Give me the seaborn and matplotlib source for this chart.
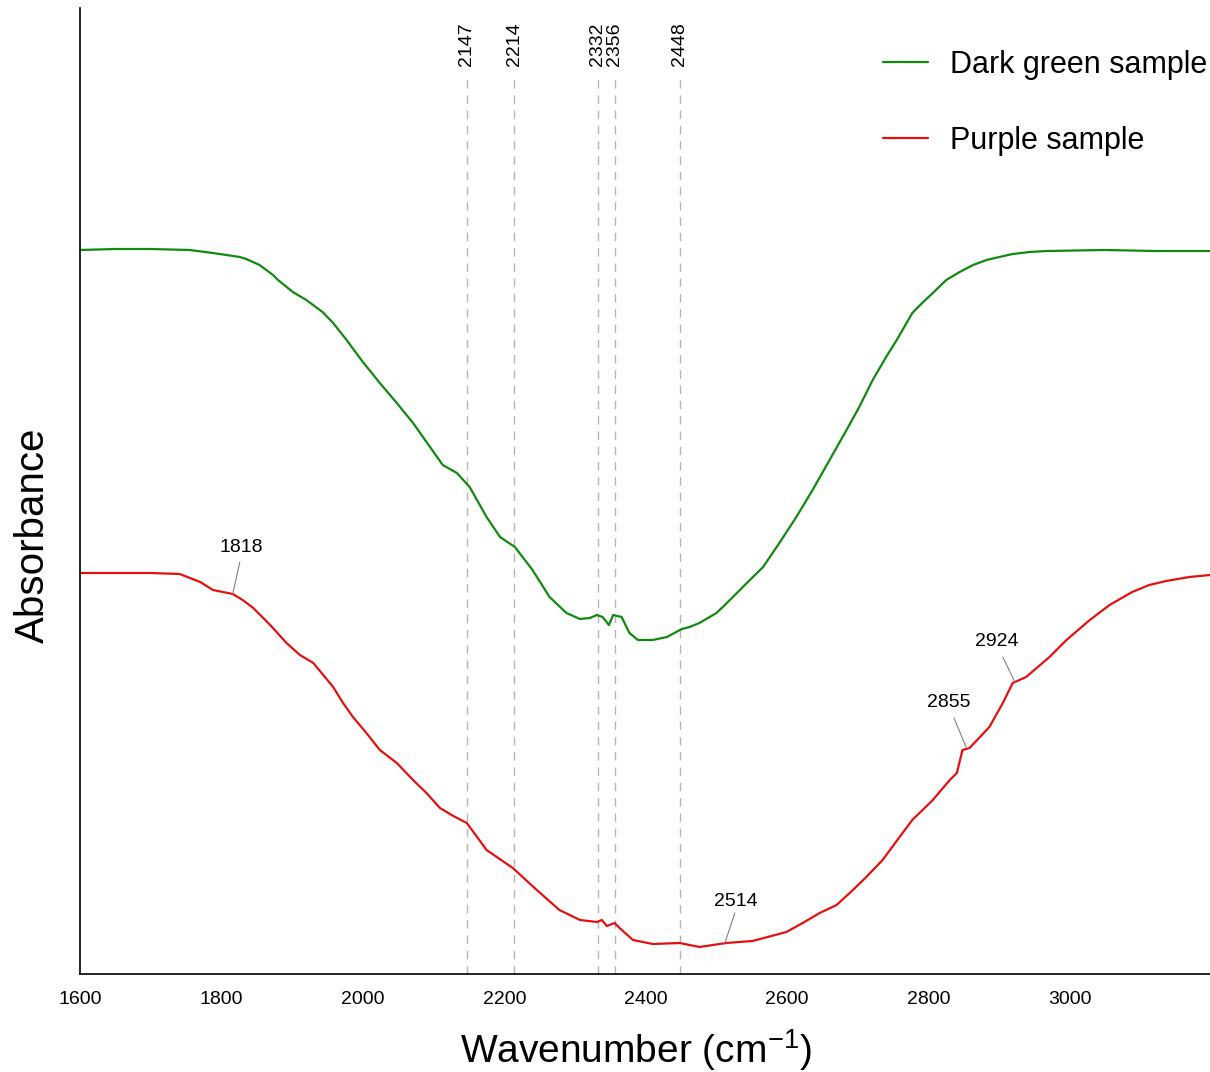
import matplotlib
matplotlib.use("Agg")
import matplotlib.pyplot as plt
import seaborn as sns
import pandas as pd
from matplotlib.lines import Line2D

# ---- data ----
green_wn = [1600, 1650, 1700, 1755, 1788, 1807, 1826, 1835, 1854, 1873, 1880, 1901,
            1920, 1943, 1958, 1977, 2000, 2024, 2048, 2071, 2095, 2113, 2133, 2151,
            2175, 2194, 2215, 2240, 2264, 2288, 2307, 2321, 2331, 2339, 2348, 2354,
            2366, 2377, 2389, 2410, 2430, 2451, 2462, 2476, 2500, 2509, 2519, 2543,
            2566, 2589, 2613, 2636, 2660, 2684, 2702, 2721, 2740, 2755, 2777, 2791,
            2806, 2825, 2844, 2863, 2882, 2900, 2919, 2943, 2967, 3050, 3120, 3198]
green_abs = [0.721, 0.722, 0.722, 0.721, 0.718, 0.716, 0.714, 0.712, 0.706, 0.696, 0.691, 0.679,
             0.671, 0.659, 0.648, 0.631, 0.609, 0.588, 0.568, 0.548, 0.524, 0.506, 0.498, 0.484,
             0.454, 0.434, 0.424, 0.401, 0.374, 0.358, 0.352, 0.353, 0.356, 0.354, 0.346, 0.356,
             0.354, 0.338, 0.331, 0.331, 0.334, 0.342, 0.344, 0.348, 0.358, 0.364, 0.371, 0.388,
             0.404, 0.428, 0.454, 0.481, 0.511, 0.541, 0.564, 0.591, 0.614, 0.631, 0.658, 0.668,
             0.678, 0.691, 0.699, 0.706, 0.711, 0.714, 0.717, 0.719, 0.720, 0.721, 0.720, 0.720]

red_wn = [1600, 1700, 1741, 1770, 1788, 1816, 1830, 1845, 1869, 1892, 1911, 1930,
          1958, 1972, 1986, 2005, 2024, 2048, 2071, 2090, 2109, 2128, 2147, 2175,
          2212, 2246, 2278, 2307, 2331, 2338, 2345, 2356, 2363, 2382, 2410, 2448,
          2476, 2514, 2551, 2599, 2622, 2646, 2670, 2693, 2712, 2735, 2759, 2777,
          2806, 2830, 2840, 2848, 2858, 2886, 2905, 2919, 2938, 2971, 2995, 3028,
          3056, 3088, 3112, 3136, 3169, 3198]
red_abs = [0.398, 0.398, 0.397, 0.389, 0.381, 0.377, 0.371, 0.363, 0.346, 0.328, 0.316, 0.308,
           0.284, 0.268, 0.254, 0.238, 0.221, 0.208, 0.191, 0.178, 0.163, 0.155, 0.148, 0.121,
           0.103, 0.081, 0.061, 0.051, 0.049, 0.051, 0.045, 0.048, 0.043, 0.031, 0.027, 0.028,
           0.024, 0.028, 0.030, 0.039, 0.048, 0.058, 0.066, 0.081, 0.094, 0.111, 0.134, 0.151,
           0.171, 0.191, 0.198, 0.221, 0.223, 0.244, 0.268, 0.288, 0.294, 0.314, 0.331, 0.351,
           0.366, 0.379, 0.386, 0.390, 0.394, 0.396]

series_names = ["Dark green sample", "Purple sample"]
series_colors = ["#0f8a0f", "#e31010"]

ref_lines = [2147, 2214, 2332, 2356, 2448]

peak_labels = [1818, 2514, 2855, 2924]
peak_y = [0.377, 0.028, 0.224, 0.289]       # curve point where each leader line starts
leader_dx = [10, 14, -17, -17]              # leader line top offset (cm-1)
leader_len = [0.032, 0.030, 0.029, 0.025]   # leader line height
text_dx = [10, 14, -27, -27]                # label centre offset (cm-1)
text_dy = [0.038, 0.033, 0.036, 0.032]      # label bottom above the curve point

x_ticks = [1600, 1800, 2000, 2200, 2400, 2600, 2800, 3000]

# ---- build table ----
df = pd.concat([
    pd.DataFrame({"wn": green_wn, "abs": green_abs, "sample": series_names[0]}),
    pd.DataFrame({"wn": red_wn, "abs": red_abs, "sample": series_names[1]}),
], ignore_index=True)

sns.set_style("white")
plt.rcParams["font.family"] = ["Liberation Sans", "DejaVu Sans"]
plt.rcParams["mathtext.default"] = "regular"
plt.rcParams["text.color"] = "black"
plt.rcParams["axes.labelcolor"] = "black"
plt.rcParams["xtick.color"] = "black"

W, H = 1210, 1072
fig = plt.figure(figsize=(W / 100, H / 100), dpi=100)
ax = fig.add_axes([80 / W, (H - 974) / H, (W - 80) / W, (974 - 8) / H])

sns.lineplot(data=df, x="wn", y="abs", hue="sample", hue_order=series_names,
             palette=series_colors, sort=False, estimator=None, linewidth=1.6,
             legend=False, ax=ax)

ax.set_xlim(1600, 3198)
ax.set_ylim(-0.003, 0.963)

# reference dashed lines with rotated labels
for wn in ref_lines:
    ax.plot([wn, wn], [-0.003, 0.896], color="#b4b4b4", lw=1.0,
            linestyle=(0, (6, 5)), zorder=0)
    ax.text(wn, 0.905, str(wn), rotation=90, ha="center", va="bottom",
            fontsize=14, color="black")

# peak annotations
for lab, py, ldx, ll, tdx, tdy in zip(peak_labels, peak_y, leader_dx, leader_len,
                                       text_dx, text_dy):
    ax.plot([lab - 2, lab - 2 + ldx], [py, py + ll], color="#808080", lw=0.8)
    ax.text(lab + tdx, py + tdy, str(lab), ha="center", va="bottom", fontsize=14)

# axes styling
for s in ["top", "right"]:
    ax.spines[s].set_visible(False)
for s in ["left", "bottom"]:
    ax.spines[s].set_color("black")
    ax.spines[s].set_linewidth(1.2)
ax.set_xticks(x_ticks)
ax.set_xticklabels([str(t) for t in x_ticks], fontsize=14)
ax.set_yticks([])
ax.tick_params(axis="x", direction="out", length=7, width=1.2, color="black", pad=5)
ax.set_xlabel(r"Wavenumber (cm$^{-1}$)", fontsize=28)
ax.set_ylabel("Absorbance", fontsize=29)
ax.xaxis.set_label_coords(0.492, -0.055)
ax.yaxis.set_label_coords(-0.0245, 0.454)

# legend
handles = [Line2D([0], [0], color=c, lw=1.6) for c in series_colors]
fig.legend(handles, series_names, loc="upper left",
           bbox_to_anchor=(883 / W, 1 - 50 / H), frameon=False, fontsize=22,
           handlelength=1.47, handletextpad=0.72, labelspacing=1.5,
           borderaxespad=0, borderpad=0)

fig.savefig("out.png", dpi=100, facecolor="white")
